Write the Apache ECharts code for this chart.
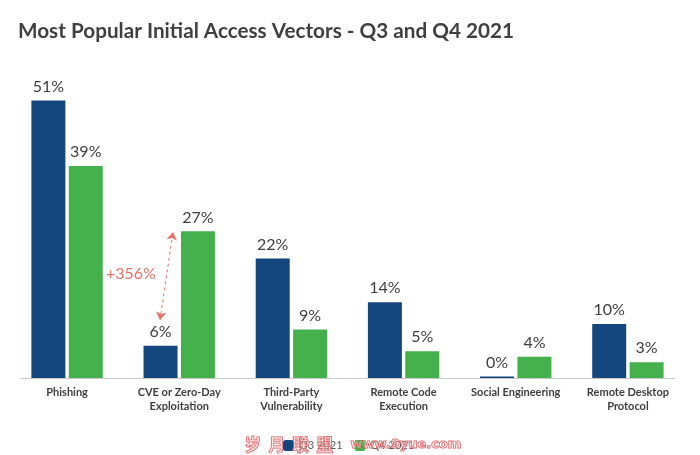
<!DOCTYPE html>
<html>
<head>
<meta charset="utf-8">
<style>
  html, body { margin: 0; padding: 0; background: #fff; }
  #chart { width: 700px; height: 455px; }
</style>
<script src="https://cdn.jsdelivr.net/npm/echarts@6/dist/echarts.min.js"></script>
</head>
<body>
<div id="chart"></div>
<script>
const categories = ['Phishing', 'CVE or Zero-Day\nExploitation', 'Third-Party\nVulnerability', 'Remote Code\nExecution', 'Social Engineering', 'Remote Desktop\nProtocol'];
const q3Values = [51, 6, 22, 14, 0, 10];
const q4Values = [39, 27, 9, 5, 4, 3];
const seriesNames = ['Q3 2021', 'Q4 2021'];

const textFont = 'Lato';
const barLabel = {
  show: true,
  position: 'top',
  distance: 6,
  formatter: '{c}%',
  color: '#404040',
  fontFamily: textFont,
  fontSize: 16
};

const myChart = echarts.init(document.getElementById('chart'), null, { renderer: 'canvas' });
myChart.setOption({
  animation: false,
  backgroundColor: '#fff',
  title: {
    text: 'Most Popular Initial Access Vectors - Q3 and Q4 2021',
    left: 13,
    top: 16,
    textStyle: { color: '#404040', fontFamily: textFont, fontWeight: 'bold', fontSize: 20.7 }
  },
  legend: {
    data: seriesNames,
    left: 278,
    top: 435,
    itemWidth: 11,
    itemHeight: 11,
    itemGap: 12,
    textStyle: { color: '#595959', fontFamily: textFont, fontSize: 11 }
  },
  grid: { left: 11, right: 16, top: 73.3, bottom: 76.5 },
  xAxis: {
    type: 'category',
    data: categories,
    axisTick: { show: false },
    axisLine: { show: false },
    axisLabel: {
      interval: 0,
      color: '#404040',
      fontFamily: textFont,
      fontWeight: 'bold',
      fontSize: 11,
      lineHeight: 14,
      margin: 7
    }
  },
  yAxis: { type: 'value', min: 0, max: 56, show: false },
  series: [
    {
      name: seriesNames[0],
      type: 'bar',
      data: q3Values,
      barWidth: 34,
      barGap: '10%',
      barMinHeight: 2,
      itemStyle: { color: '#14477d' },
      label: barLabel,
      markLine: {
        silent: true,
        symbol: ['arrow', 'arrow'],
        symbolSize: 8,
        label: { show: false },
        lineStyle: { color: '#e57368', type: [3, 3], width: 1 },
        data: [[{ x: 160, y: 320 }, { x: 173, y: 232 }]]
      }
    },
    {
      name: seriesNames[1],
      type: 'bar',
      data: q4Values,
      barWidth: 34,
      itemStyle: { color: '#44b14d' },
      label: barLabel,
      // baseline stops short of the plot edges
      markLine: {
        silent: true,
        symbol: 'none',
        label: { show: false },
        lineStyle: { color: '#c8c8c8', type: 'solid', width: 1 },
        data: [[{ x: 20, yAxis: 0 }, { x: 675, yAxis: 0 }]]
      }
    }
  ],
  graphic: [
    {
      type: 'text',
      left: 106,
      top: 266,
      style: { text: '+356%', fill: '#e57368', font: '16px Lato' }
    },
    {
      type: 'text',
      left: 244,
      top: 436,
      z: 100,
      style: {
        text: '岁  月  联  盟',
        fill: 'rgba(255,255,255,0.3)',
        stroke: '#e0585c',
        lineWidth: 1,
        font: 'bold 16.5px "Noto Sans CJK SC"'
      }
    },
    {
      type: 'text',
      left: 350,
      top: 438,
      z: 100,
      style: {
        text: 'www.9yue.com',
        fill: 'rgba(255,255,255,0.3)',
        stroke: '#e0585c',
        lineWidth: 1,
        font: 'bold 13px "DejaVu Sans"'
      }
    }
  ]
});
</script>
</body>
</html>
